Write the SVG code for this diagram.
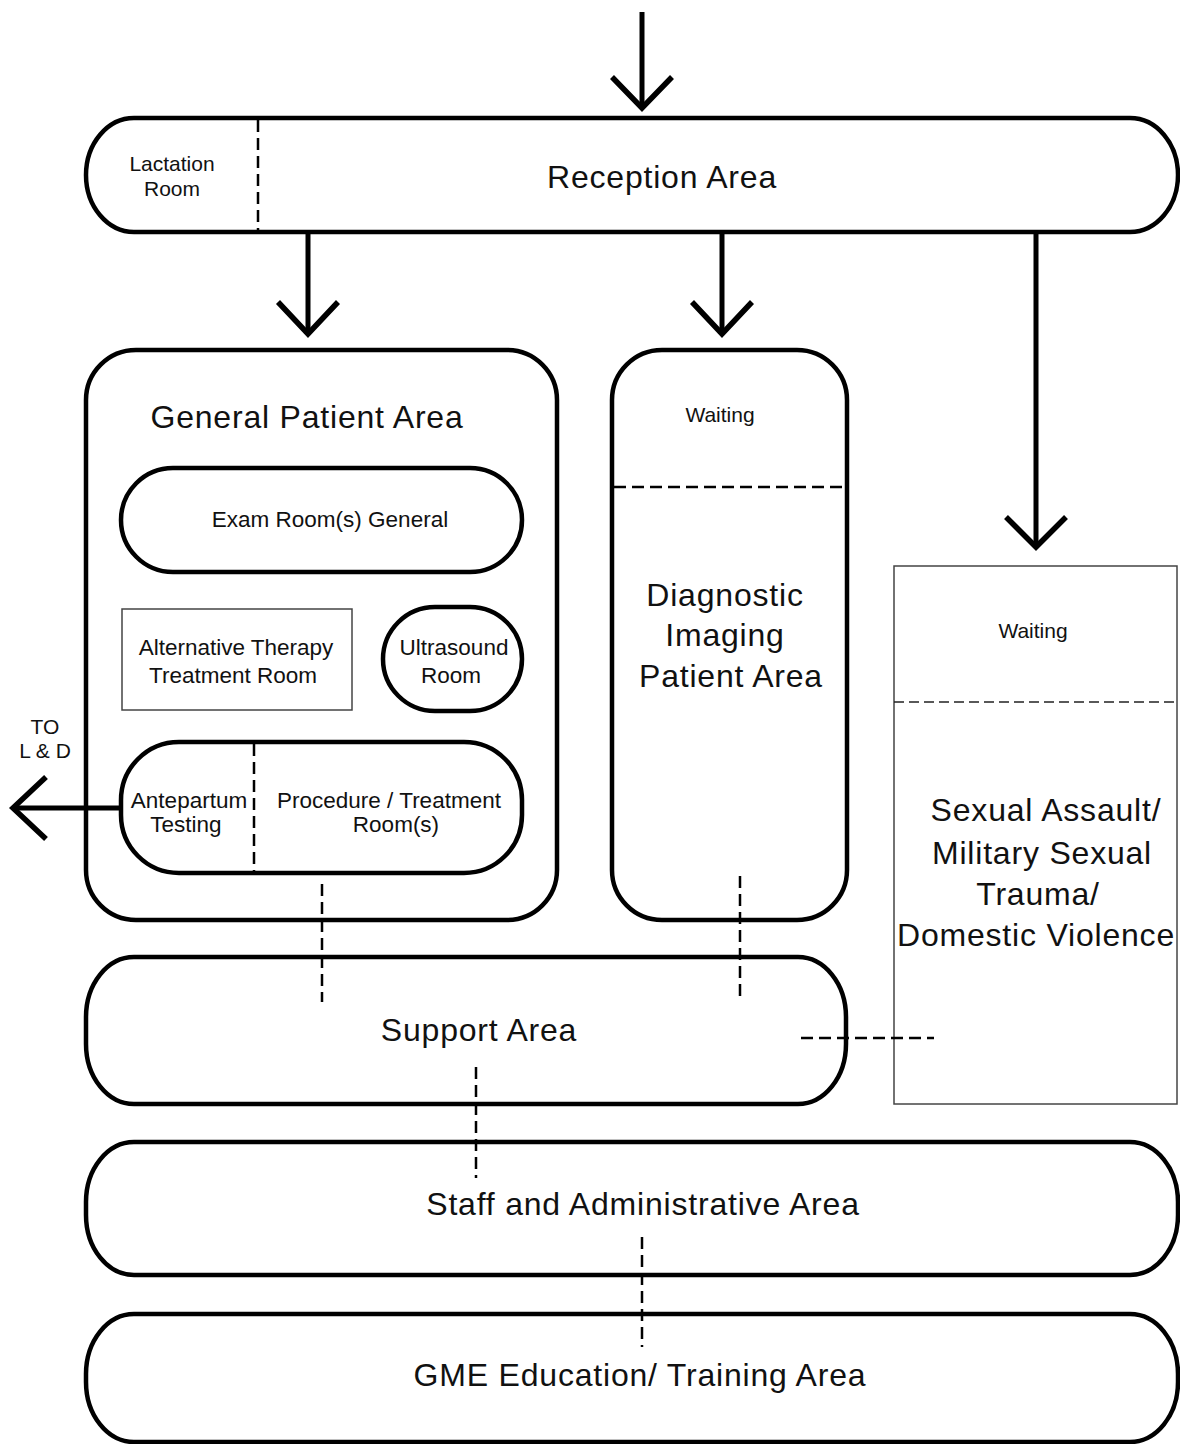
<svg xmlns="http://www.w3.org/2000/svg" width="1180" height="1444" viewBox="0 0 1180 1444">
<style>
.box{fill:#fff;stroke:#000;stroke-width:4.5}
.thin{fill:#fff;stroke:#444;stroke-width:1.5}
.dash{fill:none;stroke:#000;stroke-width:2.5;stroke-dasharray:12 6}
.dashthin{fill:none;stroke:#222;stroke-width:1.5;stroke-dasharray:10 5}
.conn{fill:none;stroke:#000;stroke-width:5;stroke-linecap:butt}
.head{fill:none;stroke:#000;stroke-width:5.5;stroke-linejoin:miter}
text{font-family:"Liberation Sans",Arial,sans-serif;fill:#111;text-anchor:middle}
.big{font-size:32px;letter-spacing:0.8px}
.med{font-size:22.5px}
.sm{font-size:21px}
</style>
<rect width="1180" height="1444" fill="#fff"/>
<g id="reception">
<rect class="box" x="86" y="118" width="1092" height="114" rx="48" ry="57"/>
<line class="dash" x1="258" y1="120" x2="258" y2="230" stroke-dasharray="8 5"/>
<text class="sm" x="172" y="171">Lactation</text>
<text class="sm" x="172" y="196">Room</text>
<text class="big" x="662" y="188" letter-spacing="0.5">Reception Area</text>
</g>
<g id="general">
<rect class="box" x="86" y="350" width="471" height="570" rx="50"/>
<text class="big" x="307" y="428">General Patient Area</text>
</g>
<g id="exam">
<rect class="box" x="121" y="468" width="401" height="104" rx="52"/>
<text class="med" x="330" y="527">Exam Room(s) General</text>
</g>
<g id="alt">
<rect class="thin" x="122" y="609" width="230" height="101"/>
<text class="med" x="236" y="655">Alternative Therapy</text>
<text class="med" x="233" y="683">Treatment Room</text>
</g>
<g id="ultrasound">
<rect class="box" x="383" y="607" width="139" height="104" rx="52"/>
<text class="med" x="454" y="655">Ultrasound</text>
<text class="med" x="451" y="683">Room</text>
</g>
<g id="procedure">
<rect class="box" x="121" y="742" width="401" height="131" rx="58"/>
<line class="dash" x1="254" y1="744" x2="254" y2="871" stroke-dasharray="8 5"/>
<text class="med" x="189" y="808">Antepartum</text>
<text class="med" x="186" y="832">Testing</text>
<text class="med" x="389" y="808">Procedure / Treatment</text>
<text class="med" x="396" y="832">Room(s)</text>
</g>
<g id="diagnostic">
<rect class="box" x="612" y="350" width="235" height="570" rx="50"/>
<line class="dash" x1="614" y1="487" x2="845" y2="487" stroke-dasharray="10 5"/>
<text class="sm" x="720" y="422">Waiting</text>
<text class="big" x="725" y="606">Diagnostic</text>
<text class="big" x="725" y="646">Imaging</text>
<text class="big" x="731" y="687">Patient Area</text>
</g>
<g id="sexual">
<rect class="thin" x="894" y="566" width="283" height="538"/>
<line class="dashthin" x1="894" y1="702" x2="1177" y2="702"/>
<text class="sm" x="1033" y="638">Waiting</text>
<text class="big" x="1046" y="821">Sexual Assault/</text>
<text class="big" x="1042" y="864">Military Sexual</text>
<text class="big" x="1038" y="905">Trauma/</text>
<text class="big" x="1036" y="946">Domestic Violence</text>
</g>
<g id="support">
<rect class="box" x="86" y="957" width="760" height="147" rx="48" ry="60"/>
<text class="big" x="479" y="1041" letter-spacing="0.5">Support Area</text>
</g>
<g id="staff">
<rect class="box" x="86" y="1142" width="1092" height="133" rx="48" ry="60"/>
<text class="big" x="643" y="1215" letter-spacing="0.5">Staff and Administrative Area</text>
</g>
<g id="gme">
<rect class="box" x="86" y="1314" width="1092" height="128" rx="48" ry="60"/>
<text class="big" x="640" y="1386" letter-spacing="0.5">GME Education/ Training Area</text>
</g>
<g id="labels">
<text class="sm" x="45" y="734">TO</text>
<text class="sm" x="45" y="758">L &amp; D</text>
</g>
<g id="connectors">
<line class="conn" x1="642" y1="12" x2="642" y2="106"/>
<polyline class="head" points="612,77 642,108 672,77"/>
<line class="conn" x1="308" y1="232" x2="308" y2="333"/>
<polyline class="head" points="278,302 308,334 338,302"/>
<line class="conn" x1="722" y1="232" x2="722" y2="333"/>
<polyline class="head" points="692,302 722,334 752,302"/>
<line class="conn" x1="1036" y1="232" x2="1036" y2="546"/>
<polyline class="head" points="1006,517 1036,547 1066,517"/>
<line class="conn" x1="121" y1="808" x2="14" y2="808"/>
<polyline class="head" points="46,777 13,808 46,839"/>
<line class="dash" x1="322" y1="884" x2="322" y2="1002" stroke-width="3" stroke-dasharray="14 7"/>
<line class="dash" x1="740" y1="876" x2="740" y2="1002" stroke-width="3" stroke-dasharray="14 7"/>
<line class="dash" x1="801" y1="1038" x2="934" y2="1038" stroke-width="3.5" stroke-dasharray="16 6"/>
<line class="dash" x1="476" y1="1067" x2="476" y2="1178" stroke-width="3" stroke-dasharray="14 7"/>
<line class="dash" x1="642" y1="1237" x2="642" y2="1347" stroke-width="3" stroke-dasharray="14 7"/>
</g>
</svg>
